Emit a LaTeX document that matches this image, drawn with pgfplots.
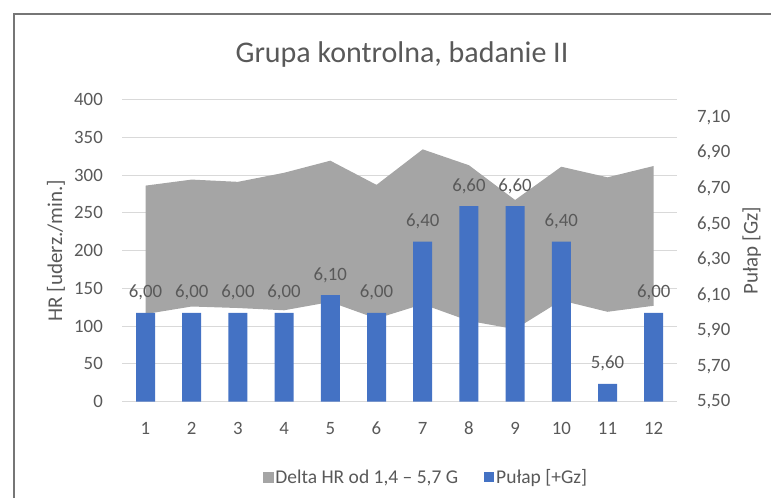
\documentclass[border=0pt]{standalone}
\usepackage{pgfplots}
\pgfplotsset{compat=1.18}
\usepackage{fontspec}
\setmainfont{Carlito}
\definecolor{txt}{HTML}{595959}
\definecolor{gridc}{HTML}{D9D9D9}
\definecolor{areac}{HTML}{A5A5A5}
\definecolor{barc}{HTML}{4472C4}
\definecolor{framec}{HTML}{767676}
\begin{document}
\begin{tikzpicture}[x=1pt,y=1pt]
\useasboundingbox (0,0) rectangle (771,498);
\draw[framec, line width=1.3pt] (14,0) -- (14,484) -- (771,484);
\node[txt, font=\fontsize{30}{36}\selectfont, anchor=base, inner sep=0pt] at (402,435.3) {Grupa kontrolna, badanie II};
\begin{axis}[
 at={(122.4pt,96.3pt)}, anchor=south west,
 width=554.4pt, height=302.2pt, scale only axis,
 xmin=0.5, xmax=12.5, ymin=0, ymax=400,
 xtick={1,...,12}, ytick={0,50,...,400},
 axis line style={draw=none}, major tick length=0pt,
 ymajorgrids, grid style={gridc, line width=1pt},
 tick label style={txt, font=\fontsize{18.8}{22}\selectfont, /pgf/number format/assume math mode=true},
 yticklabel style={anchor=east, inner sep=0pt, xshift=-19.4pt},
 xticklabel style={anchor=base, inner sep=0pt, yshift=-32.3pt},
 ylabel={HR [uderz./min.]},
 ylabel style={txt, font=\fontsize{21}{24}\selectfont, at={(axis description cs:-0.1198,0.5)}, anchor=center, inner sep=0pt},
]
\addplot[fill=areac, draw=none] coordinates {
 (1,286) (2,294) (3,291) (4,303) (5,319) (6,287) (7,334) (8,313) (9,267) (10,311) (11,297) (12,312)
 (12,127) (11,119) (10,134) (9,96) (8,107) (7,129) (6,110) (5,132) (4,121) (3,124) (2,126) (1,116)
} -- cycle;
\end{axis}
\begin{axis}[
 at={(122.4pt,96.3pt)}, anchor=south west,
 width=554.4pt, height=302.2pt, scale only axis,
 xmin=0.5, xmax=12.5, ymin=5.5, ymax=7.2,
 axis line style={draw=none}, major tick length=0pt,
 xtick=\empty,
 ytick={5.5,5.7,5.9,6.1,6.3,6.5,6.7,6.9,7.1},
 yticklabel pos=right,
 tick label style={txt, font=\fontsize{18.8}{22}\selectfont},
 yticklabel style={anchor=west, inner sep=0pt, xshift=20pt, /pgf/number format/.cd, fixed, fixed zerofill, precision=2, use comma, assume math mode=true},
 ylabel={Pułap [Gz]},
 ylabel style={txt, font=\fontsize{21}{24}\selectfont, at={(axis description cs:1.1353,0.5)}, anchor=center, inner sep=0pt, rotate=0},
 legend columns=2,
 legend style={at={(axis description cs:0.2536,-0.2492)}, anchor=west, inner sep=0pt, outer sep=0pt, draw=none, fill=none, text=txt, font=\fontsize{19.5}{22}\selectfont, /tikz/every even column/.append style={column sep=24pt}},
]
\addlegendimage{legend image code/.code={\fill[areac] (0pt,-5pt) rectangle (10pt,5pt);}}
\addlegendentry{Delta HR od 1,4 – 5,7 G}
\addplot[ybar, fill=barc, draw=none, bar width=19pt,
 legend image code/.code={\fill[barc] (0pt,-5pt) rectangle (10pt,5pt);},
 nodes near coords={\fontsize{18.8}{22}\selectfont\pgfmathprintnumber[fixed,fixed zerofill,precision=2,use comma,assume math mode=true]{\pgfplotspointmeta}},
 every node near coord/.append style={txt, anchor=base, yshift=15pt}
] coordinates {
 (1,6.00) (2,6.00) (3,6.00) (4,6.00) (5,6.10) (6,6.00) (7,6.40) (8,6.60) (9,6.60) (10,6.40) (11,5.60) (12,6.00)
};
\addlegendentry{Pułap [+Gz]}
\end{axis}
\end{tikzpicture}
\end{document}
